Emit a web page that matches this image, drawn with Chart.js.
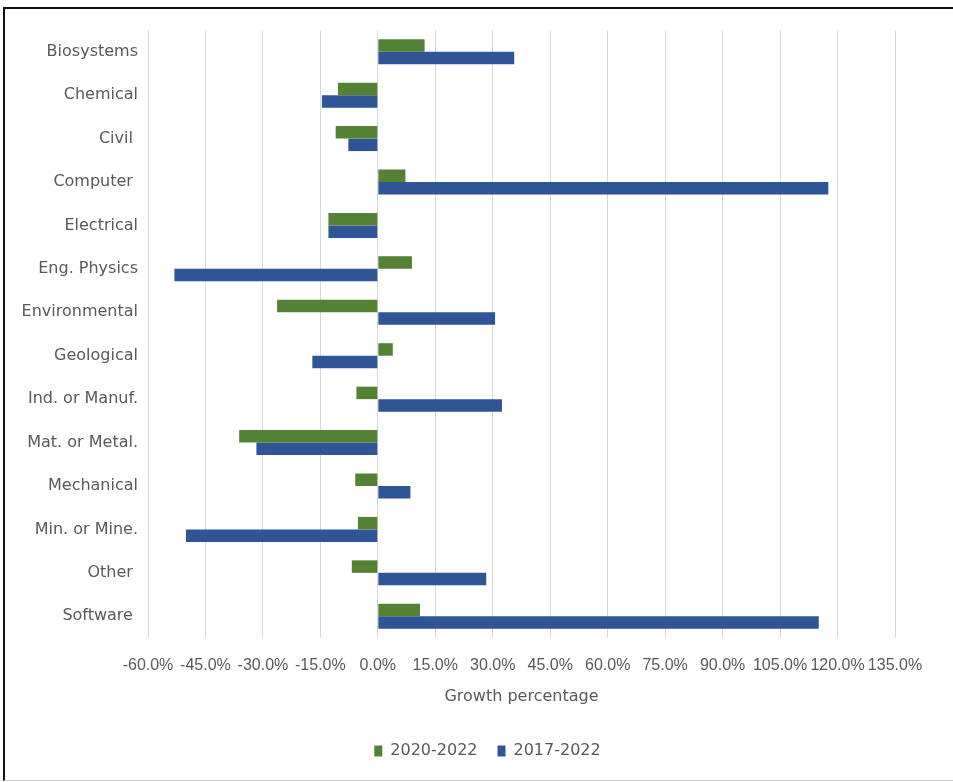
<!DOCTYPE html>
<html>
<head>
<meta charset="utf-8">
<script src="https://cdn.jsdelivr.net/npm/chart.js@4"></script>
<style>
    html, body { margin: 0; padding: 0; background: #fff; }
    #wrap { position: relative; width: 953px; height: 782px; }
    #frame {
        position: absolute; left: 3px; top: 7px; right: 0; bottom: 1px;
        border-top: 2px solid #111; border-left: 2px solid #111; border-bottom: 1px solid #d0d0d0;
        pointer-events: none;
    }
</style>
</head>
<body>
<div id="wrap">
    <canvas id="growthChart"></canvas>
    <div id="frame"></div>
</div>
<script>
const categories = ['Biosystems', 'Chemical', 'Civil ', 'Computer ', 'Electrical', 'Eng. Physics', 'Environmental',
    'Geological', 'Ind. or Manuf.', 'Mat. or Metal.', 'Mechanical', 'Min. or Mine.', 'Other ', 'Software '];
const growth2020 = [12.2, -10.4, -11.0, 7.2, -12.9, 8.9, -26.3, 3.9, -5.6, -36.2, -5.9, -5.2, -6.8, 11.0];
const growth2017 = [35.6, -14.6, -7.7, 117.6, -12.9, -53.1, 30.6, -17.1, 32.4, -31.7, 8.5, -50.1, 28.3, 115.1];
const xMin = -60, xMax = 135, xStep = 15;

const textGrey = '#595959';

// legend in the original sits a bit right of the canvas centre
const legendShift = {
    id: 'legendShift',
    afterLayout(chart) {
        chart.legend.left += 80;
    }
};

const ctx = document.getElementById('growthChart').getContext('2d');
new Chart(ctx, {
    type: 'bar',
    data: {
        labels: categories,
        datasets: [{
            label: '2020-2022',
            data: growth2020,
            backgroundColor: '#548235',
            categoryPercentage: 0.576,
            barPercentage: 1.0
        }, {
            label: '2017-2022',
            data: growth2017,
            backgroundColor: '#2f5597',
            categoryPercentage: 0.576,
            barPercentage: 1.0
        }]
    },
    options: {
        indexAxis: 'y',
        responsive: true,
        maintainAspectRatio: false,
        animation: false,
        layout: { padding: { top: 30, right: 58, bottom: 13, left: 0 } },
        scales: {
            x: {
                min: xMin,
                max: xMax,
                grid: { color: '#d9d9d9', drawTicks: false },
                border: { display: false },
                ticks: {
                    stepSize: xStep,
                    autoSkip: false,
                    maxRotation: 0,
                    padding: 18,
                    color: textGrey,
                    font: { family: "'Liberation Sans', Arial, sans-serif", size: 16 },
                    callback: v => v.toFixed(1) + '%'
                },
                title: {
                    display: true,
                    text: 'Growth percentage',
                    color: textGrey,
                    padding: { top: 4, bottom: 17 },
                    font: { family: "'DejaVu Sans', sans-serif", size: 16 }
                },
                afterFit: scale => { scale.height = 85; }
            },
            y: {
                grid: { display: false },
                border: { display: false },
                ticks: {
                    padding: 2,
                    color: textGrey,
                    font: { family: "'DejaVu Sans', sans-serif", size: 16 }
                },
                afterFit: scale => { scale.width = 148; }
            }
        },
        plugins: {
            legend: {
                position: 'bottom',
                labels: {
                    boxWidth: 8,
                    boxHeight: 11,
                    padding: 20,
                    color: textGrey,
                    font: { family: "'DejaVu Sans', sans-serif", size: 16 }
                }
            },
            tooltip: { enabled: false }
        }
    },
    plugins: [legendShift]
});
</script>
</body>
</html>
